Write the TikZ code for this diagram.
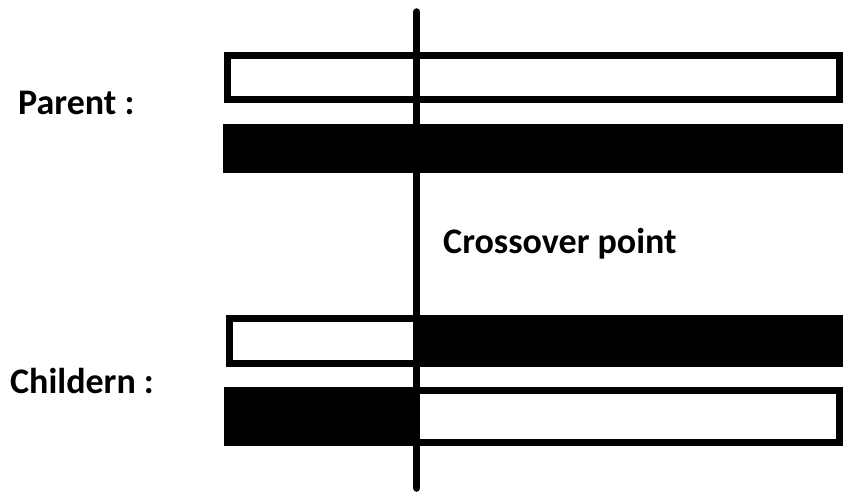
\documentclass[tikz,border=0pt]{standalone}
\usepackage{fontspec}
\setmainfont{Carlito}
\usepackage{tikz}

\begin{document}
\begin{tikzpicture}[
  x=1pt, y=-1pt,
  font=\fontsize{36}{40}\selectfont\bfseries,
  label/.style={anchor=base west, inner sep=0pt},
  hollow/.style={draw=black, line width=7pt, fill=white, anchor=north west, inner sep=0pt, outer sep=0pt},
  solid/.style={draw=none, fill=black, anchor=north west, inner sep=0pt, outer sep=0pt},
  cut/.style={line width=7.5pt, line cap=round}
]
\useasboundingbox (0,0) rectangle (843,492);

% parents
\node[hollow, minimum width=612, minimum height=44] (parA) at (227.5,55.5) {};
\node[solid, minimum width=627, minimum height=49] (parB) at (223,124) {};

% children
\node[hollow, minimum width=190.5, minimum height=45] (kidAl) at (229.5,318.5) {};
\node[solid, minimum width=433, minimum height=52] (kidAr) at (417,315) {};
\node[hollow, minimum width=426, minimum height=52] (kidBr) at (413.5,390.5) {};
\node[solid, minimum width=193, minimum height=59] (kidBl) at (224,387) {};

% crossover line
\coordinate (top) at (416.7,12);
\coordinate (bot) at (416.7,488);
\draw[cut] (top) -- (bot);

\node[label] (parent) at (18,115) {Parent :};
\node[label] (child) at (10,393) {Childern :};
\node[label] (point) at (443,253) {Crossover point};
\end{tikzpicture}
\end{document}
